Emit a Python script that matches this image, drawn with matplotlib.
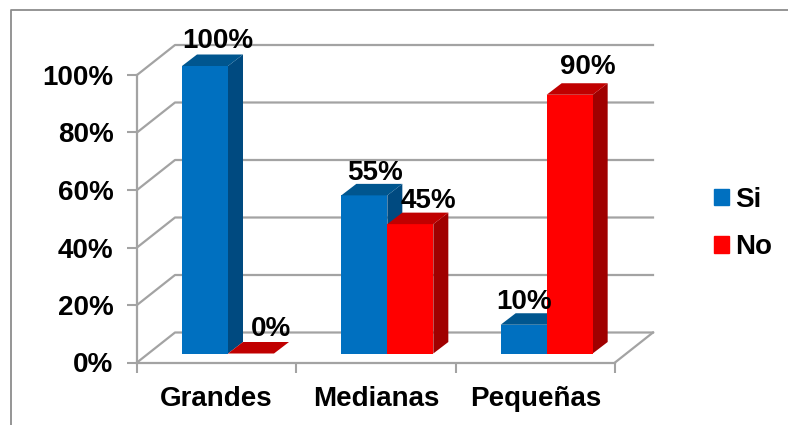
import matplotlib
matplotlib.use('Agg')
import numpy as np
import matplotlib.pyplot as plt
from matplotlib.patches import Polygon, Patch

categories = ['Grandes', 'Medianas', 'Pequeñas']
si_values = [100, 55, 10]
no_values = [0, 45, 90]
y_ticks = [0, 20, 40, 60, 80, 100]

# offsets of the value labels, pixels
si_label_dx = [13, 11, 0]
si_label_dy = [25, 22, 23]
no_label_dx = [20, 18, 18]
no_label_dy = [25, 23, 28]

W, H = 788, 425
plt.rcParams['font.family'] = ['Liberation Sans', 'DejaVu Sans']
plt.rcParams['font.weight'] = 'bold'
fs = 20
grid_col = '#a3a3a3'

fig = plt.figure(figsize=(W / 100, H / 100), dpi=100)
x0, x1, y_bot, y_top = 137, 615, 362.5, 75
ax = fig.add_axes([x0 / W, 1 - y_bot / H, (x1 - x0) / W, (y_bot - y_top) / H])
ax.set_xlim(0, 3)
ax.set_ylim(0, 100)
ax.patch.set_alpha(0)

ux = (x1 - x0) / 3.0    # pixels per category
uy = (y_bot - y_top) / 100.0    # pixels per percent

# wall depth
wx = 38 / ux
wy = 30 / uy
for v in y_ticks:
    ax.plot([0, wx, 3 + wx], [v, v + wy, v + wy], color=grid_col, lw=1.6, clip_on=False, zorder=1)
ax.plot([3, 3 + wx], [0, wy], color=grid_col, lw=1.6, clip_on=False, zorder=1)

# bars
bw = 46 / ux
dx = 15 / ux
dy = 11.5 / uy
base = 9 / uy
shift = 91 / ux


def bar3d(x, v, front, top, side):
    ax.bar(x, v, width=bw, bottom=base, align='edge', color=front, zorder=3, clip_on=False)
    b = base + v
    ax.add_patch(Polygon([(x, b), (x + dx, b + dy), (x + bw + dx, b + dy), (x + bw, b)],
                         color=top, lw=0, zorder=3, clip_on=False))
    ax.add_patch(Polygon([(x + bw, base), (x + bw + dx, base + dy), (x + bw + dx, b + dy), (x + bw, b)],
                         color=side, lw=0, zorder=2.5, clip_on=False))


for i in range(len(categories)):
    bar3d(i + shift - bw, si_values[i], '#0070c0', '#00568f', '#004a80')
    bar3d(i + shift, no_values[i], '#ff0000', '#c00000', '#a00000')

for i in range(len(categories)):
    ax.text(i + shift - bw / 2 + si_label_dx[i] / ux, base + si_values[i] + si_label_dy[i] / uy,
            '%d%%' % si_values[i], ha='center', va='center', fontsize=fs, zorder=5, clip_on=False)
    ax.text(i + shift + bw / 2 + no_label_dx[i] / ux, base + no_values[i] + no_label_dy[i] / uy,
            '%d%%' % no_values[i], ha='center', va='center', fontsize=fs, zorder=5, clip_on=False)

for s in ['top', 'right']:
    ax.spines[s].set_visible(False)
for s in ['left', 'bottom']:
    ax.spines[s].set_color(grid_col)
    ax.spines[s].set_linewidth(1.6)

ax.set_yticks(y_ticks)
ax.set_yticklabels(['%d%%' % v for v in y_ticks], fontsize=fs)
ax.set_xticks([0, 1, 2, 3])
ax.set_xticklabels([])
ax.set_xticks([0.5, 1.5, 2.5], minor=True)
ax.set_xticklabels(categories, minor=True, fontsize=fs)
ax.tick_params(axis='y', length=7, width=1.5, color=grid_col, pad=10)
ax.tick_params(axis='x', which='major', length=7, width=1.5, color=grid_col)
ax.tick_params(axis='x', which='minor', length=0, pad=17)

handles = [Patch(color='#0070c0', label='Si'), Patch(color='#ff0000', label='No')]
fig.legend(handles=handles, loc='center left', bbox_to_anchor=(689 / W, 1 - 223.5 / H), frameon=False,
           fontsize=fs, handlelength=0.55, handleheight=0.55, handletextpad=0.2, labelspacing=0.76)

# outer frame
fig.add_artist(plt.Line2D([10.5 / W, 10.5 / W, 1], [0, 1 - 9.5 / H, 1 - 9.5 / H], color='#8c8c8c', lw=1.3))

plt.savefig('out.png', dpi=100)
plt.close()
